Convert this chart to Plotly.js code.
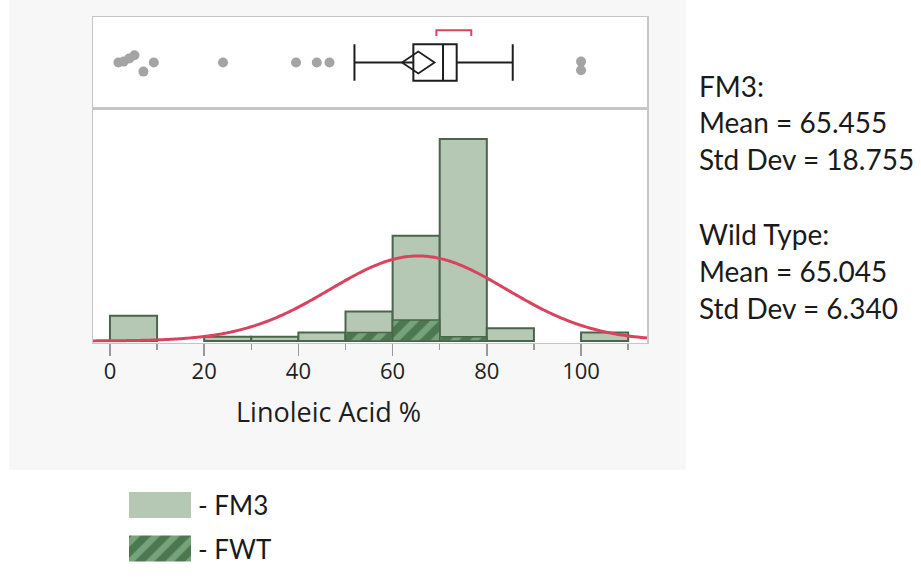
<!DOCTYPE html>
<html>
<head>
<meta charset="utf-8">
<script src="https://cdn.plot.ly/plotly-3.0.1.min.js"></script>
<style>html,body{margin:0;padding:0;background:#fff;}#chart{width:921px;height:580px;}</style>
</head>
<body>
<div id="chart"></div>
<script>
// ---- data ----
const binWidth = 10;
const fm3BinStarts = [0, 20, 30, 40, 50, 60, 70, 80, 100];
const fm3Counts    = [6, 1, 1, 2, 7, 25, 48, 3, 2];
const fwtBinStarts = [50, 60, 70];
const fwtCounts    = [2, 5, 1];

const outlierValues = [1.8, 2.9, 4.1, 5.2, 7.1, 9.3, 24, 39.5, 43.9, 46.6, 100, 100];
const outlierJitter = [0, 0.02, 0.09, 0.16, -0.2, 0, 0, 0, 0, 0, 0.02, -0.17];

const boxQ1 = 64.4, boxMedian = 70.7, boxQ3 = 73.6;
const whiskerLow = 51.9, whiskerHigh = 85.5;
const meanCI = [62.0, 68.9];
const shortestHalf = [69.3, 76.7];

const fm3Mean = 65.455, fm3SD = 18.755;
const wtMean = 65.045, wtSD = 6.340;

const tickVals = [0, 20, 40, 60, 80, 100];
const legendLabels = ['FM3', 'FWT'];

// ---- helpers (pixel -> paper) ----
const W = 921, H = 580;
const px = x => x / W;
const py = y => 1 - y / H;

// fitted normal curve from stated mean / sd
const nTotal = fm3Counts.reduce((a, b) => a + b, 0);
const curveX = [], curveY = [];
for (let x = -3.6; x <= 114.01; x += 0.4) {
  const z = (x - fm3Mean) / fm3SD;
  curveX.push(x);
  curveY.push(nTotal * binWidth * Math.exp(-0.5 * z * z) / (fm3SD * Math.sqrt(2 * Math.PI)));
}

const lightGreen = '#b4c8b4';
const outline = '#4b644c';
const darkGreen = '#4b7850';
const stripe = '#78a37a';
const red = '#d9435f';

const traces = [
  { type: 'bar', x: fm3BinStarts, y: fm3Counts, width: binWidth, offset: 0,
    marker: { color: lightGreen, line: { color: outline, width: 2 } },
    xaxis: 'x', yaxis: 'y', hoverinfo: 'skip' },
  { type: 'bar', x: fwtBinStarts, y: fwtCounts, width: binWidth, offset: 0,
    marker: { color: darkGreen, line: { color: outline, width: 1.5 },
      pattern: { shape: '/', fgcolor: stripe, bgcolor: darkGreen, size: 14, solidity: 0.45, fillmode: 'replace' } },
    xaxis: 'x', yaxis: 'y', hoverinfo: 'skip' },
  { type: 'scatter', mode: 'lines', x: curveX, y: curveY,
    line: { color: red, width: 3, shape: 'spline' }, xaxis: 'x', yaxis: 'y', hoverinfo: 'skip' },

  // box panel
  { type: 'box', orientation: 'h', y: [0], q1: [boxQ1], median: [boxMedian], q3: [boxQ3],
    lowerfence: [whiskerLow], upperfence: [whiskerHigh], width: 0.8, whiskerwidth: 1,
    boxpoints: false, fillcolor: 'rgba(0,0,0,0)', line: { color: '#1e1e1e', width: 2 },
    xaxis: 'x2', yaxis: 'y2', hoverinfo: 'skip' },
  { type: 'scatter', mode: 'lines',
    x: [meanCI[0], fm3Mean, meanCI[1], fm3Mean, meanCI[0]], y: [0, 0.24, 0, -0.24, 0],
    line: { color: '#1e1e1e', width: 1.8 }, xaxis: 'x2', yaxis: 'y2', hoverinfo: 'skip' },
  { type: 'scatter', mode: 'lines',
    x: [shortestHalf[0], shortestHalf[0], shortestHalf[1], shortestHalf[1]], y: [0.58, 0.71, 0.71, 0.58],
    line: { color: red, width: 2 }, xaxis: 'x2', yaxis: 'y2', hoverinfo: 'skip' },
  { type: 'scatter', mode: 'markers', x: outlierValues, y: outlierJitter,
    marker: { color: '#a4a4a4', size: 10 }, xaxis: 'x2', yaxis: 'y2', hoverinfo: 'skip' },

  // legend swatches
  { type: 'bar', orientation: 'h', x: [1], y: [legendLabels[0]], width: 0.6, base: 0,
    marker: { color: lightGreen, line: { width: 0 } }, xaxis: 'x3', yaxis: 'y3', hoverinfo: 'skip' },
  { type: 'bar', orientation: 'h', x: [1], y: [legendLabels[1]], width: 0.6, base: 0,
    marker: { color: darkGreen, line: { width: 0 },
      pattern: { shape: '/', fgcolor: stripe, bgcolor: darkGreen, size: 14, solidity: 0.45, fillmode: 'replace' } },
    xaxis: 'x3', yaxis: 'y3', hoverinfo: 'skip' }
];

const frame = '#c6c6c6';
const axisFont = { family: 'Open Sans, sans-serif', size: 22, color: '#222' };
const textFont = { family: 'Lato, sans-serif', size: 28, color: '#1a1a1a' };

const rightLines = [
  ['FM3:', 86], ['Mean = ' + fm3Mean.toFixed(3), 122], ['Std Dev = ' + fm3SD.toFixed(3), 159],
  ['Wild Type:', 234], ['Mean = ' + wtMean.toFixed(3), 271], ['Std Dev = ' + wtSD.toFixed(3), 308]
];

const annotations = rightLines.map(([t, y]) => ({
  text: t, xref: 'paper', yref: 'paper', x: px(697), y: py(y), xanchor: 'left', yanchor: 'middle',
  showarrow: false, font: textFont
}));
annotations.push({ text: 'Linoleic Acid %', xref: 'paper', yref: 'paper', x: px(328), y: py(411),
  xanchor: 'center', yanchor: 'middle', showarrow: false, font: { family: 'Open Sans, sans-serif', size: 27, color: '#1e1e1e' } });
annotations.push({ text: '- ' + legendLabels[0], xref: 'paper', yref: 'paper', x: px(196), y: py(505),
  xanchor: 'left', yanchor: 'middle', showarrow: false, font: { family: 'Lato, sans-serif', size: 26, color: '#1a1a1a' } });
annotations.push({ text: '- ' + legendLabels[1], xref: 'paper', yref: 'paper', x: px(196), y: py(549),
  xanchor: 'left', yanchor: 'middle', showarrow: false, font: { family: 'Lato, sans-serif', size: 26, color: '#1a1a1a' } });

const layout = {
  width: W, height: H,
  margin: { l: 0, r: 0, t: 0, b: 0 },
  paper_bgcolor: '#ffffff', plot_bgcolor: 'rgba(0,0,0,0)',
  showlegend: false, barmode: 'overlay',
  xaxis: { domain: [px(93), px(647)], range: [-3.6, 114], anchor: 'y',
    showline: true, mirror: true, linecolor: frame, linewidth: 1.5,
    tickmode: 'array', tickvals: tickVals, ticks: 'outside', ticklen: 12, tickwidth: 1.5, tickcolor: '#9a9a9a',
    ticklabelstandoff: -3,
    minor: { dtick: 10, tick0: 0, ticks: 'outside', ticklen: 6, tickwidth: 1.5, tickcolor: '#9a9a9a', showgrid: false },
    tickfont: axisFont, showgrid: false, zeroline: false, fixedrange: true },
  yaxis: { domain: [py(342.5), py(108)], range: [-0.36, 55.37], anchor: 'x',
    showline: true, mirror: true, linecolor: frame, linewidth: 1.5,
    showticklabels: false, ticks: '', showgrid: false, zeroline: false, fixedrange: true },
  xaxis2: { domain: [px(93), px(647)], range: [-3.6, 114], anchor: 'y2', matches: 'x',
    showline: true, mirror: true, linecolor: frame, linewidth: 1.5,
    showticklabels: false, ticks: '', showgrid: false, zeroline: false, fixedrange: true },
  yaxis2: { domain: [py(108), py(17)], range: [-1, 1], anchor: 'x2',
    showline: true, mirror: true, linecolor: frame, linewidth: 1.5,
    showticklabels: false, ticks: '', showgrid: false, zeroline: false, fixedrange: true },
  xaxis3: { domain: [px(129), px(191)], range: [0, 1], anchor: 'y3', visible: false, fixedrange: true },
  yaxis3: { domain: [py(570.25), py(483.25)], type: 'category', categoryorder: 'array', categoryarray: legendLabels,
    range: [1.5, -0.5], anchor: 'x3', visible: false, fixedrange: true },
  shapes: [
    { type: 'rect', xref: 'paper', yref: 'paper', x0: px(9), x1: px(686), y0: py(470), y1: py(0),
      fillcolor: '#f7f7f7', line: { width: 0 }, layer: 'below' },
    { type: 'rect', xref: 'paper', yref: 'paper', x0: px(93), x1: px(647), y0: py(342.5), y1: py(17),
      fillcolor: '#ffffff', line: { width: 0 }, layer: 'below' }
  ],
  annotations: annotations
};

Plotly.newPlot('chart', traces, layout, { displayModeBar: false, staticPlot: true });
</script>
</body>
</html>
